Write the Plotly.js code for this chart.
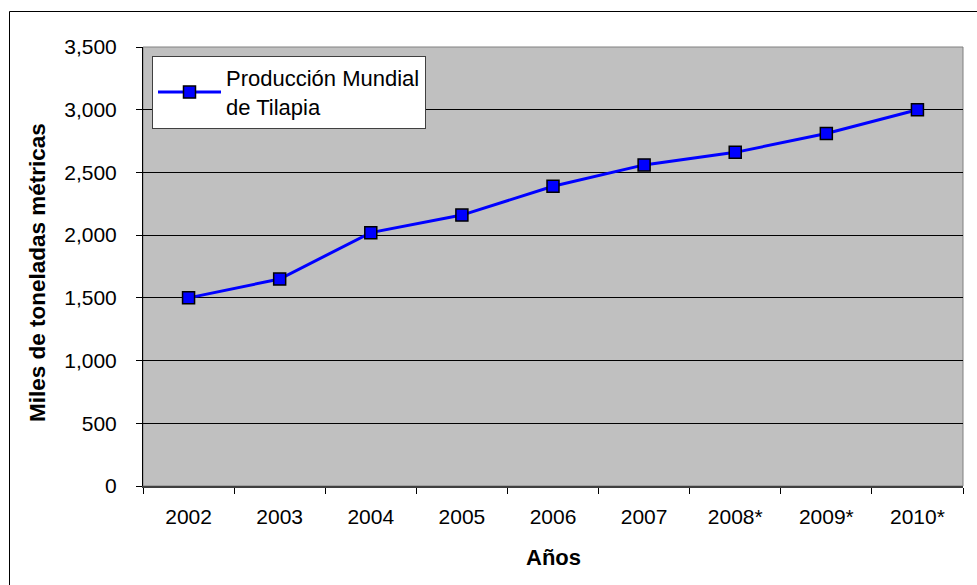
<!DOCTYPE html>
<html>
<head>
<meta charset="utf-8">
<script src="https://cdn.plot.ly/plotly-3.0.1.min.js"></script>
<style>
html,body{margin:0;padding:0;background:#fff;}
#chart{width:977px;height:585px;}
</style>
</head>
<body>
<div id="chart"></div>
<script>
var years = ["2002","2003","2004","2005","2006","2007","2008*","2009*","2010*"];
var produccion = [1500, 1650, 2020, 2160, 2390, 2560, 2660, 2810, 3000];
var seriesName = "Producción Mundial<br>de Tilapia";
var yTitle = "Miles de toneladas métricas";
var xTitle = "Años";

var L = 143, R = 963, T = 47, B = 486, W = 977, H = 585;
function px(x){ return (x - L) / (R - L); }
function py(y){ return (B - y) / (B - T); }

var trace = {
  x: years,
  y: produccion,
  type: "scatter",
  mode: "lines+markers",
  name: seriesName,
  line: {color: "#0000FF", width: 3},
  marker: {symbol: "square", size: 12, color: "#0000FF", line: {color: "#000000", width: 1.5}},
  cliponaxis: false
};

var layout = {
  width: W, height: H,
  margin: {l: L, r: W - R, t: T, b: H - B, pad: 0},
  paper_bgcolor: "#FFFFFF",
  plot_bgcolor: "#C0C0C0",
  font: {family: "Liberation Sans, Arial, sans-serif", size: 21, color: "#000000"},
  showlegend: true,
  legend: {
    x: px(152), y: py(56), xanchor: "left", yanchor: "top",
    bgcolor: "#FFFFFF", bordercolor: "#404040", borderwidth: 1,
    font: {family: "Liberation Sans, Arial, sans-serif", size: 22, color: "#000000"},
    itemwidth: 63, tracegroupgap: 0
  },
  xaxis: {
    type: "category",
    range: [-0.5, 8.5],
    tickson: "boundaries",
    ticks: "outside", ticklen: 6, tickcolor: "#000000", tickwidth: 1,
    showgrid: false, zeroline: false,
    showline: true, linecolor: "#404040", linewidth: 2,
    tickfont: {size: 21},
    ticklabelstandoff: 11,
    fixedrange: true
  },
  yaxis: {
    range: [0, 3500],
    dtick: 500, tick0: 0,
    tickformat: ",d",
    ticks: "outside", ticklen: 6, tickcolor: "#000000", tickwidth: 1,
    showgrid: true, gridcolor: "#000000", gridwidth: 1,
    zeroline: false,
    showline: true, linecolor: "#000000", linewidth: 1,
    tickfont: {size: 21},
    ticklabelstandoff: 15,
    fixedrange: true
  },
  shapes: [
    {type: "rect", xref: "paper", yref: "paper", x0: 0, x1: 1, y0: 0, y1: 1,
     line: {color: "#808080", width: 1}, fillcolor: "rgba(0,0,0,0)", layer: "below"},
    {type: "rect", xref: "paper", yref: "paper", x0: px(9.5), x1: px(1200), y0: py(800), y1: py(11.5),
     line: {color: "#000000", width: 1}, fillcolor: "rgba(0,0,0,0)"}
  ],
  annotations: [
    {text: "<b>" + yTitle + "</b>", xref: "paper", yref: "paper", x: px(37), y: py(273),
     xanchor: "center", yanchor: "middle", textangle: -90, showarrow: false,
     font: {family: "Liberation Sans, Arial, sans-serif", size: 22.5, color: "#000000"}},
    {text: "<b>" + xTitle + "</b>", xref: "paper", yref: "paper", x: px(553), y: py(557),
     xanchor: "center", yanchor: "middle", showarrow: false,
     font: {family: "Liberation Sans, Arial, sans-serif", size: 22, color: "#000000"}}
  ]
};

Plotly.newPlot("chart", [trace], layout, {displayModeBar: false, staticPlot: true});
</script>
</body>
</html>
